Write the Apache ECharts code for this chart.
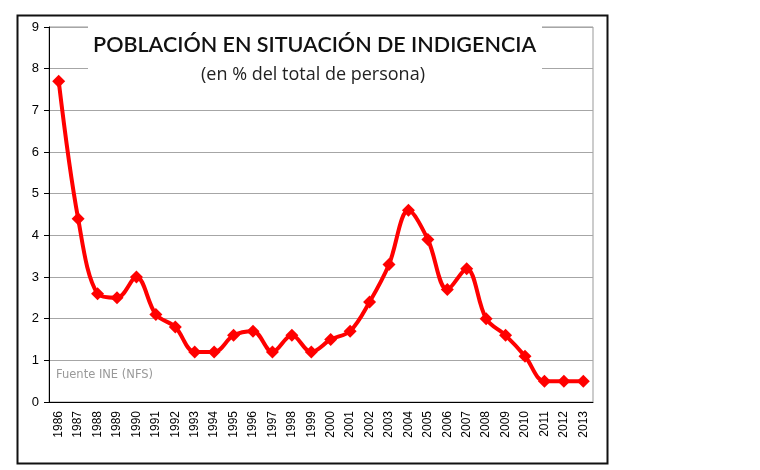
<!DOCTYPE html>
<html lang="es">
<head>
    <meta charset="UTF-8">
    <title>Población en situación de indigencia</title>
    <script src="https://cdn.jsdelivr.net/npm/echarts@6/dist/echarts.min.js"></script>
    <style>
        html, body { margin: 0; padding: 0; background: #fff; }
    </style>
</head>
<body>
<div id="main" style="width: 760px;height:470px;"></div>

<script type="text/javascript">
    // años y porcentaje de personas en situación de indigencia
    var years = ['1986', '1987', '1988', '1989', '1990', '1991', '1992', '1993', '1994', '1995',
        '1996', '1997', '1998', '1999', '2000', '2001', '2002', '2003', '2004', '2005',
        '2006', '2007', '2008', '2009', '2010', '2011', '2012', '2013'];
    var indigencia = [7.7, 4.4, 2.6, 2.5, 3.0, 2.1, 1.8, 1.2, 1.2, 1.6,
        1.7, 1.2, 1.6, 1.2, 1.5, 1.7, 2.4, 3.3, 4.6, 3.9,
        2.7, 3.2, 2.0, 1.6, 1.1, 0.5, 0.5, 0.5];
    var yTicks = [0, 1, 2, 3, 4, 5, 6, 7, 8, 9];

    var myChart = echarts.init(document.getElementById('main'));

    myChart.setOption({
        animation: false,
        backgroundColor: '#fff',
        title: [{
            text: 'POBLACIÓN EN SITUACIÓN DE INDIGENCIA',
            left: 88,
            top: 29,
            textStyle: {
                fontFamily: 'Lato',
                fontSize: 21.5,
                fontWeight: 600,
                color: '#111'
            }
        }, {
            text: '(en % del total de persona)',
            left: 196,
            top: 61,
            textStyle: {
                fontFamily: 'Open Sans',
                fontSize: 18,
                fontWeight: 'normal',
                color: '#222'
            }
        }],
        grid: {
            left: 49,
            right: 167,
            top: 27,
            bottom: 68,
            show: true,
            borderColor: '#999',
            borderWidth: 1
        },
        xAxis: {
            type: 'category',
            data: years,
            boundaryGap: true,
            axisLine: { lineStyle: { color: '#000', width: 1 } },
            axisTick: { alignWithLabel: false, length: 5, lineStyle: { color: '#000' } },
            axisLabel: {
                rotate: 90,
                interval: 0,
                margin: 9,
                fontFamily: 'Liberation Sans',
                fontSize: 12,
                color: '#000'
            }
        },
        yAxis: {
            type: 'value',
            min: yTicks[0],
            max: yTicks[yTicks.length - 1],
            interval: 1,
            axisLine: { show: true, lineStyle: { color: '#000', width: 1 } },
            axisTick: { show: true, length: 5, lineStyle: { color: '#000' } },
            axisLabel: {
                margin: 10,
                fontFamily: 'Liberation Sans',
                fontSize: 13,
                color: '#000'
            },
            splitLine: { lineStyle: { color: '#a6a6a6', width: 1 } }
        },
        graphic: [{
            // fondo blanco del título, tapa las líneas de 8 y 9
            type: 'rect',
            left: 88,
            top: 24,
            shape: { width: 454, height: 60 },
            style: { fill: '#fff' },
            z: 3
        }, {
            type: 'rect',
            left: 15,
            top: 13,
            shape: { width: 590, height: 448 },
            style: { fill: 'none', stroke: '#111', lineWidth: 2 },
            z: 100
        }, {
            type: 'text',
            left: 56,
            top: 369,
            style: {
                text: 'Fuente INE (NFS)',
                fill: '#999',
                font: '11.5px "DejaVu Sans"'
            }
        }],
        series: [{
            name: 'Indigencia',
            type: 'line',
            data: indigencia,
            smooth: 0.35,
            symbol: 'diamond',
            symbolSize: 13,
            lineStyle: { color: '#ff0000', width: 4 },
            itemStyle: { color: '#ff0000' }
        }]
    });
</script>
</body>
</html>
